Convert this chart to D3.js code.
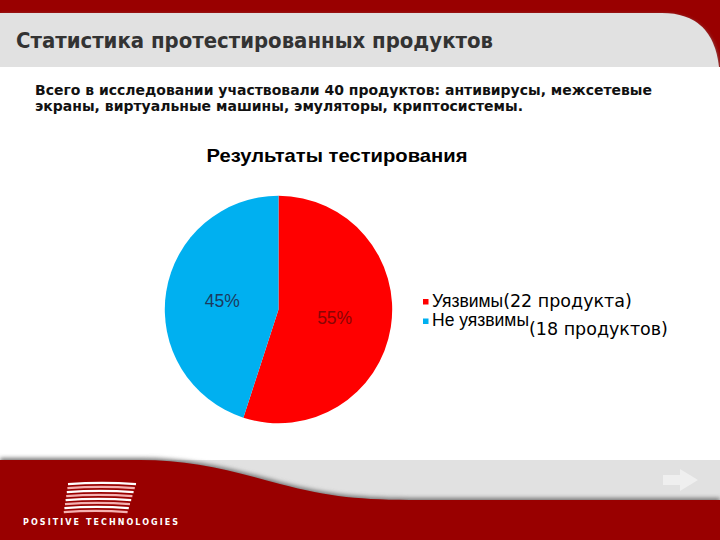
<!DOCTYPE html>
<html>
<head>
<meta charset="utf-8">
<script src="https://cdn.jsdelivr.net/npm/d3@7"></script>
<style>
  body { margin: 0; background: #fff; }
  svg { display: block; }
</style>
</head>
<body>
<svg id="chart"></svg>
<script>
const slideTitle = "Статистика протестированных продуктов";
const introLines = [
  "Всего в исследовании участвовали 40 продуктов: антивирусы, межсетевые",
  "экраны, виртуальные машины, эмуляторы, криптосистемы."
];
const chartTitle = "Результаты тестирования";
const categories = ["Уязвимы", "Не уязвимы"];
const counts = [22, 18];
const notes = ["(22 продукта)", "(18 продуктов)"];
const colors = ["#ff0000", "#00b0f0"];
const labelColors = ["#8a0505", "#1c3a5e"];

const width = 720;
const height = 540;
const dark = "#990000";
const grey = "#e1e1e1";

const svg = d3.select("#chart")
  .attr("width", width)
  .attr("height", height);

const defs = svg.append("defs");
defs.append("filter").attr("id", "blur")
  .attr("x", "-5%").attr("y", "-50%").attr("width", "110%").attr("height", "200%")
  .append("feGaussianBlur").attr("stdDeviation", 2);

// header
svg.append("rect").attr("width", width).attr("height", 67).attr("fill", dark);
svg.append("path")
  .attr("d", "M0,15 L662,15 Q713,15 719,69 L0,69 Z")
  .attr("fill", "#888")
  .attr("filter", "url(#blur)");
svg.append("path")
  .attr("d", "M0,13 L662,13 Q713,13 719,67 L0,67 Z")
  .attr("fill", grey);
svg.append("rect").attr("y", 67).attr("width", width).attr("height", 400).attr("fill", "#fff");

svg.append("text")
  .attr("x", 16).attr("y", 48)
  .attr("font-family", "'DejaVu Sans Condensed', 'DejaVu Sans', sans-serif")
  .attr("font-weight", "bold")
  .attr("font-size", 21)
  .attr("fill", "#333")
  .attr("textLength", 477)
  .attr("lengthAdjust", "spacingAndGlyphs")
  .text(slideTitle);

const introWidths = [617, 488];
svg.append("g").selectAll("text")
  .data(introLines)
  .join("text")
  .attr("x", 35)
  .attr("y", (d, i) => 95 + i * 16)
  .attr("font-family", "'DejaVu Sans Condensed', 'DejaVu Sans', sans-serif")
  .attr("font-weight", "bold")
  .attr("font-size", 13.5)
  .attr("fill", "#111")
  .attr("textLength", (d, i) => introWidths[i])
  .attr("lengthAdjust", "spacingAndGlyphs")
  .text(d => d);

// footer
svg.append("rect").attr("y", 460).attr("width", width).attr("height", 40).attr("fill", grey);
const footerEdge = "M0,460 L140,460 C190,460 230,470 280,484 C330,497 360,500 420,500 L720,500";
svg.append("path")
  .attr("d", footerEdge + " L720,540 L0,540 Z")
  .attr("transform", "translate(0,-2)")
  .attr("fill", "#777")
  .attr("filter", "url(#blur)");
svg.append("path")
  .attr("d", footerEdge + " L720,540 L0,540 Z")
  .attr("fill", dark);
svg.append("path")
  .attr("d", "M663,475 L680,475 L680,469 L698,480 L680,491 L680,485 L663,485 Z")
  .attr("fill", "#efefef");

const logo = svg.append("g");
const stripes = d3.range(8);
logo.selectAll("path")
  .data(stripes)
  .join("path")
  .attr("d", i => {
    const y = 483 + i * 4;
    const x0 = 68 - i * 0.6;
    const x1 = 136 - i * 1.2;
    return `M${x0},${y + 1.2} Q${(x0 + x1) / 2},${y - 1.5} ${x1},${y + 1.2}`;
  })
  .attr("fill", "none")
  .attr("stroke", (i) => i % 2 ? "#f4b0b0" : "#ffffff")
  .attr("stroke-width", 2.2);
logo.append("text")
  .attr("x", 23).attr("y", 525)
  .attr("font-family", "'DejaVu Sans', sans-serif")
  .attr("font-weight", "bold")
  .attr("font-size", 8)
  .attr("fill", "#fff")
  .attr("textLength", 155)
  .attr("lengthAdjust", "spacing")
  .text("POSITIVE   TECHNOLOGIES");

// chart
svg.append("text")
  .attr("x", 337).attr("y", 162)
  .attr("text-anchor", "middle")
  .attr("font-family", "'Liberation Sans', Arial, sans-serif")
  .attr("font-weight", "bold")
  .attr("font-size", 18.5)
  .attr("fill", "#000")
  .attr("textLength", 261)
  .attr("lengthAdjust", "spacingAndGlyphs")
  .text(chartTitle);

const cx = 278.5, cy = 309.5, radius = 113.7;
const total = d3.sum(counts);
const pie = d3.pie().sort(null).value(d => d)(counts);
const arc = d3.arc().innerRadius(0).outerRadius(radius);

const pieG = svg.append("g").attr("transform", `translate(${cx},${cy})`);
pieG.selectAll("path")
  .data(pie)
  .join("path")
  .attr("d", arc)
  .attr("fill", (d, i) => colors[i]);

pieG.selectAll("text")
  .data(pie)
  .join("text")
  .attr("transform", d => {
    const [x, y] = arc.centroid(d);
    return `translate(${x},${y + 6})`;
  })
  .attr("text-anchor", "middle")
  .attr("font-family", "'Liberation Sans', Arial, sans-serif")
  .attr("font-size", 17.5)
  .attr("fill", (d, i) => labelColors[i])
  .text(d => d3.format(".0%")(d.data / total));

// legend
const legend = svg.append("g").attr("transform", "translate(423,0)");
const rowY = [306.5, 326];
const noteShift = [0.5, 9];
const rows = legend.selectAll("g")
  .data(categories)
  .join("g")
  .attr("transform", (d, i) => `translate(0,${rowY[i]})`);

rows.append("rect")
  .attr("y", -7.5)
  .attr("width", 5.5)
  .attr("height", 5.5)
  .attr("fill", (d, i) => colors[i]);

rows.append("text")
  .attr("class", "lab")
  .attr("x", 9)
  .attr("font-family", "'Liberation Sans', Arial, sans-serif")
  .attr("font-size", 17.5)
  .attr("fill", "#000")
  .text(d => d);

rows.each(function(d, i) {
  const g = d3.select(this);
  const w = g.select("text.lab").node().getComputedTextLength();
  g.append("text")
    .attr("x", 9 + w)
    .attr("y", noteShift[i])
    .attr("font-family", "'DejaVu Sans', Verdana, sans-serif")
    .attr("font-size", 17.5)
    .attr("fill", "#000")
    .text(notes[i]);
});
</script>
</body>
</html>
